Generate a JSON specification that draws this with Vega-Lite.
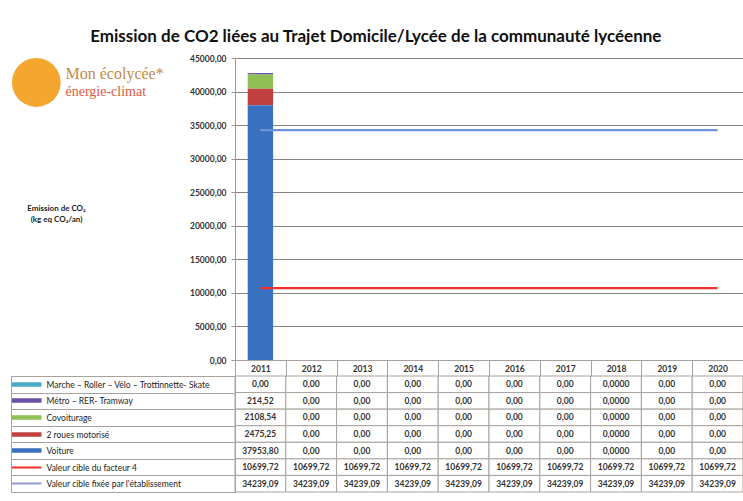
{
"$schema": "https://vega.github.io/schema/vega-lite/v6.json",
"padding": {"left": 8, "top": 28, "right": 0, "bottom": 5},
"background": "white",
"title": {"text": "Emission de CO2 liées au Trajet Domicile/Lycée de la communauté lycéenne", "font": "Lato", "fontSize": 17, "fontWeight": "bold", "color": "#111111", "anchor": "middle", "offset": 1},
"datasets": {"t": [
{"year":"2011","series":"Marche – Roller – Vélo – Trottinnette- Skate","value":0,"txt":"0,00"},
{"year":"2012","series":"Marche – Roller – Vélo – Trottinnette- Skate","value":0,"txt":"0,00"},
{"year":"2013","series":"Marche – Roller – Vélo – Trottinnette- Skate","value":0,"txt":"0,00"},
{"year":"2014","series":"Marche – Roller – Vélo – Trottinnette- Skate","value":0,"txt":"0,00"},
{"year":"2015","series":"Marche – Roller – Vélo – Trottinnette- Skate","value":0,"txt":"0,00"},
{"year":"2016","series":"Marche – Roller – Vélo – Trottinnette- Skate","value":0,"txt":"0,00"},
{"year":"2017","series":"Marche – Roller – Vélo – Trottinnette- Skate","value":0,"txt":"0,00"},
{"year":"2018","series":"Marche – Roller – Vélo – Trottinnette- Skate","value":0,"txt":"0,0000"},
{"year":"2019","series":"Marche – Roller – Vélo – Trottinnette- Skate","value":0,"txt":"0,00"},
{"year":"2020","series":"Marche – Roller – Vélo – Trottinnette- Skate","value":0,"txt":"0,00"},
{"year":"2011","series":"Métro – RER- Tramway","value":214.52,"txt":"214,52"},
{"year":"2012","series":"Métro – RER- Tramway","value":0,"txt":"0,00"},
{"year":"2013","series":"Métro – RER- Tramway","value":0,"txt":"0,00"},
{"year":"2014","series":"Métro – RER- Tramway","value":0,"txt":"0,00"},
{"year":"2015","series":"Métro – RER- Tramway","value":0,"txt":"0,00"},
{"year":"2016","series":"Métro – RER- Tramway","value":0,"txt":"0,00"},
{"year":"2017","series":"Métro – RER- Tramway","value":0,"txt":"0,00"},
{"year":"2018","series":"Métro – RER- Tramway","value":0,"txt":"0,0000"},
{"year":"2019","series":"Métro – RER- Tramway","value":0,"txt":"0,00"},
{"year":"2020","series":"Métro – RER- Tramway","value":0,"txt":"0,00"},
{"year":"2011","series":"Covoiturage","value":2108.54,"txt":"2108,54"},
{"year":"2012","series":"Covoiturage","value":0,"txt":"0,00"},
{"year":"2013","series":"Covoiturage","value":0,"txt":"0,00"},
{"year":"2014","series":"Covoiturage","value":0,"txt":"0,00"},
{"year":"2015","series":"Covoiturage","value":0,"txt":"0,00"},
{"year":"2016","series":"Covoiturage","value":0,"txt":"0,00"},
{"year":"2017","series":"Covoiturage","value":0,"txt":"0,00"},
{"year":"2018","series":"Covoiturage","value":0,"txt":"0,0000"},
{"year":"2019","series":"Covoiturage","value":0,"txt":"0,00"},
{"year":"2020","series":"Covoiturage","value":0,"txt":"0,00"},
{"year":"2011","series":"2 roues motorisé","value":2475.25,"txt":"2475,25"},
{"year":"2012","series":"2 roues motorisé","value":0,"txt":"0,00"},
{"year":"2013","series":"2 roues motorisé","value":0,"txt":"0,00"},
{"year":"2014","series":"2 roues motorisé","value":0,"txt":"0,00"},
{"year":"2015","series":"2 roues motorisé","value":0,"txt":"0,00"},
{"year":"2016","series":"2 roues motorisé","value":0,"txt":"0,00"},
{"year":"2017","series":"2 roues motorisé","value":0,"txt":"0,00"},
{"year":"2018","series":"2 roues motorisé","value":0,"txt":"0,0000"},
{"year":"2019","series":"2 roues motorisé","value":0,"txt":"0,00"},
{"year":"2020","series":"2 roues motorisé","value":0,"txt":"0,00"},
{"year":"2011","series":"Voiture","value":37953.80,"txt":"37953,80"},
{"year":"2012","series":"Voiture","value":0,"txt":"0,00"},
{"year":"2013","series":"Voiture","value":0,"txt":"0,00"},
{"year":"2014","series":"Voiture","value":0,"txt":"0,00"},
{"year":"2015","series":"Voiture","value":0,"txt":"0,00"},
{"year":"2016","series":"Voiture","value":0,"txt":"0,00"},
{"year":"2017","series":"Voiture","value":0,"txt":"0,00"},
{"year":"2018","series":"Voiture","value":0,"txt":"0,0000"},
{"year":"2019","series":"Voiture","value":0,"txt":"0,00"},
{"year":"2020","series":"Voiture","value":0,"txt":"0,00"},
{"year":"2011","series":"Valeur cible du facteur 4","value":10699.72,"txt":"10699,72"},
{"year":"2012","series":"Valeur cible du facteur 4","value":10699.72,"txt":"10699,72"},
{"year":"2013","series":"Valeur cible du facteur 4","value":10699.72,"txt":"10699,72"},
{"year":"2014","series":"Valeur cible du facteur 4","value":10699.72,"txt":"10699,72"},
{"year":"2015","series":"Valeur cible du facteur 4","value":10699.72,"txt":"10699,72"},
{"year":"2016","series":"Valeur cible du facteur 4","value":10699.72,"txt":"10699,72"},
{"year":"2017","series":"Valeur cible du facteur 4","value":10699.72,"txt":"10699,72"},
{"year":"2018","series":"Valeur cible du facteur 4","value":10699.72,"txt":"10699.72"},
{"year":"2019","series":"Valeur cible du facteur 4","value":10699.72,"txt":"10699,72"},
{"year":"2020","series":"Valeur cible du facteur 4","value":10699.72,"txt":"10699,72"},
{"year":"2011","series":"Valeur cible fixée par l'établissement","value":34239.09,"txt":"34239,09"},
{"year":"2012","series":"Valeur cible fixée par l'établissement","value":34239.09,"txt":"34239,09"},
{"year":"2013","series":"Valeur cible fixée par l'établissement","value":34239.09,"txt":"34239,09"},
{"year":"2014","series":"Valeur cible fixée par l'établissement","value":34239.09,"txt":"34239,09"},
{"year":"2015","series":"Valeur cible fixée par l'établissement","value":34239.09,"txt":"34239,09"},
{"year":"2016","series":"Valeur cible fixée par l'établissement","value":34239.09,"txt":"34239,09"},
{"year":"2017","series":"Valeur cible fixée par l'établissement","value":34239.09,"txt":"34239,09"},
{"year":"2018","series":"Valeur cible fixée par l'établissement","value":34239.09,"txt":"34239,09"},
{"year":"2019","series":"Valeur cible fixée par l'établissement","value":34239.09,"txt":"34239,09"},
{"year":"2020","series":"Valeur cible fixée par l'établissement","value":34239.09,"txt":"34239,09"}
]},
"vconcat": [
{
"width": 508, "height": 302,
"data": {"name": "t"},
"layer": [
{
"transform": [{"filter": {"field": "series", "oneOf": ["Marche – Roller – Vélo – Trottinnette- Skate", "Métro – RER- Tramway", "Covoiturage", "2 roues motorisé", "Voiture"]}}],
"mark": {"type": "bar", "width": {"band": 0.5}},
"encoding": {
"x": {"field": "year", "type": "ordinal", "scale": {"paddingInner": 0, "paddingOuter": 0},
 "axis": {"orient": "top", "title": "énergie-climat", "labels": false, "ticks": false, "domain": false, "grid": false, "titleX": -170, "titleY": 33, "titleAlign": "left", "titleBaseline": "middle", "titleFont": "Liberation Serif", "titleFontSize": 14, "titleFontWeight": "normal", "titleColor": "#e0583c", "titlePadding": 0}},
"y": {"field": "value", "type": "quantitative", "stack": "zero", "scale": {"domain": [0, 45000], "nice": false},
 "axis": {"orient": "left", "title": ["Emission de CO₂", "(kg eq CO₂/an)"], "titleAngle": 0, "titleX": -179, "titleY": 150, "titleAlign": "center", "titleBaseline": "middle", "titleFontSize": 8, "titleFont": "Lato", "titleFontWeight": "bold", "titleLineHeight": 11, "titleColor": "#222222",
  "values": [0, 5000, 10000, 15000, 20000, 25000, 30000, 35000, 40000, 45000],
  "labelExpr": "replace(format(datum.value, '.2f'), '.', ',')", "labelFont": "Lato", "labelFontSize": 8.5, "labelFontWeight": "bold", "labelColor": "#333333", "labelPadding": 5, "tickSize": 4, "tickColor": "#999999", "domainColor": "#999999", "grid": true, "gridColor": "#8a837e", "gridWidth": 1}},
"color": {"field": "series", "type": "nominal",
 "scale": {"domain": ["Marche – Roller – Vélo – Trottinnette- Skate", "Métro – RER- Tramway", "Covoiturage", "2 roues motorisé", "Voiture", "Valeur cible du facteur 4", "Valeur cible fixée par l'établissement"], "range": ["#4bacc6", "#6a4fa6", "#8fbf55", "#c0403f", "#3a70c0", "#f0302a", "#6b93d6"]}, "legend": null},
"order": {"field": "value", "sort": "descending"}
}
},
{
"transform": [{"filter": {"field": "series", "oneOf": ["Valeur cible du facteur 4", "Valeur cible fixée par l'établissement"]}}],
"mark": {"type": "line", "strokeWidth": 2.2},
"encoding": {
"x": {"field": "year", "type": "ordinal",
 "axis": {"orient": "bottom", "title": "●", "labels": false, "ticks": false, "domain": true, "domainColor": "#a8a29e", "grid": false, "titleX": -199, "titleY": -281, "titleAlign": "center", "titleBaseline": "middle", "titleFont": "DejaVu Sans", "titleFontSize": 64, "titleFontWeight": "normal", "titleColor": "#f4a62e", "titlePadding": 0}},
"y": {"field": "value", "type": "quantitative",
 "axis": {"orient": "left", "title": "Mon écolycée*", "labels": false, "ticks": false, "domain": false, "grid": false, "titleAngle": 0, "titleX": -170, "titleY": 15, "titleAlign": "left", "titleBaseline": "middle", "titleFont": "Liberation Serif", "titleFontSize": 16, "titleFontWeight": "normal", "titleColor": "#c48a48", "titlePadding": 0}},
"color": {"field": "series", "type": "nominal", "legend": null}
}
}
],
"resolve": {"axis": {"x": "independent", "y": "independent"}}
},
{
"width": 508, "height": 116,
"data": {"name": "t"},
"layer": [
{
"mark": {"type": "rect", "fill": "white", "stroke": "#a8a29e", "strokeWidth": 1},
"encoding": {
"x": {"field": "year", "type": "ordinal", "scale": {"paddingInner": 0, "paddingOuter": 0},
 "axis": {"orient": "top", "title": null, "domain": false, "tickBand": "extent", "tickExtra": true, "tickSize": 16, "tickColor": "#a8a29e", "labelPadding": -8, "labelBaseline": "middle", "labelAngle": 0, "labelFont": "Lato", "labelFontSize": 8.5, "labelFontWeight": "bold", "labelColor": "#333333", "minExtent": 16, "maxExtent": 16}},
"y": {"field": "series", "type": "nominal", "sort": ["Marche – Roller – Vélo – Trottinnette- Skate", "Métro – RER- Tramway", "Covoiturage", "2 roues motorisé", "Voiture", "Valeur cible du facteur 4", "Valeur cible fixée par l'établissement"], "scale": {"paddingInner": 0, "paddingOuter": 0},
 "axis": {"orient": "left", "title": null, "tickBand": "extent", "tickExtra": true, "tickSize": 224, "tickColor": "#a8a29e", "domainColor": "#a8a29e", "labelAlign": "left", "labelPadding": -35, "labelBaseline": "middle", "labelLimit": 200, "labelFont": "Lato", "labelFontSize": 8.5, "labelColor": "#222222"}}
}
},
{
"mark": {"type": "text", "font": "Lato", "fontSize": 8.5, "fontWeight": "bold", "color": "#333333"},
"encoding": {
"x": {"field": "year", "type": "ordinal"},
"y": {"field": "series", "type": "nominal", "sort": ["Marche – Roller – Vélo – Trottinnette- Skate", "Métro – RER- Tramway", "Covoiturage", "2 roues motorisé", "Voiture", "Valeur cible du facteur 4", "Valeur cible fixée par l'établissement"],
 "axis": {"orient": "left", "offset": 224, "title": null, "labels": false, "domain": true, "domainColor": "#a8a29e", "tickSize": -30,
  "tickColor": {"condition": [
   {"test": "datum.value === 'Marche – Roller – Vélo – Trottinnette- Skate'", "value": "#4bacc6"},
   {"test": "datum.value === 'Métro – RER- Tramway'", "value": "#6a4fa6"},
   {"test": "datum.value === 'Covoiturage'", "value": "#8fbf55"},
   {"test": "datum.value === '2 roues motorisé'", "value": "#c0403f"},
   {"test": "datum.value === 'Voiture'", "value": "#3a70c0"},
   {"test": "datum.value === 'Valeur cible du facteur 4'", "value": "#f0302a"}], "value": "#9a9ad0"},
  "tickWidth": {"condition": {"test": "indexof(datum.value, 'Valeur') === 0", "value": 2}, "value": 4.5}}},
"text": {"field": "txt"}
}
}
],
"resolve": {"axis": {"y": "independent"}}
}
],
"spacing": 16,
"bounds": "flush",
"config": {"view": {"stroke": null}}
}
